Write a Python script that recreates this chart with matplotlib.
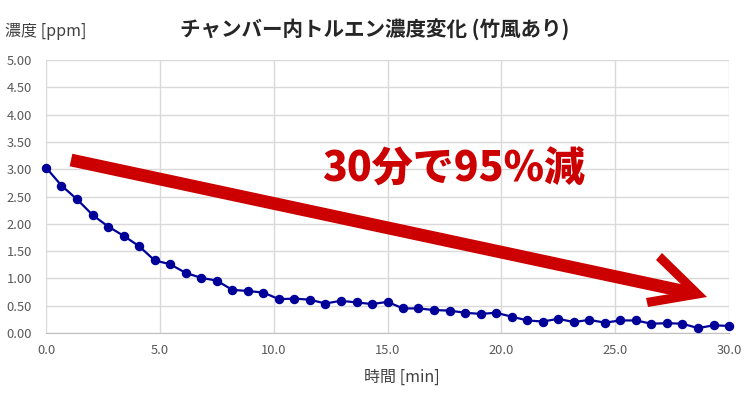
import matplotlib
matplotlib.use("Agg")
from matplotlib import pyplot as plt
from matplotlib.patches import Polygon
from matplotlib.lines import Line2D
from matplotlib.ticker import FormatStrFormatter, MultipleLocator

plt.rcParams['font.family'] = ['Noto Sans CJK JP', 'DejaVu Sans']

# data
times = [0.00, 0.68, 1.36, 2.05, 2.73, 3.41, 4.09, 4.77, 5.45, 6.14,
         6.82, 7.50, 8.18, 8.86, 9.55, 10.23, 10.91, 11.59, 12.27, 12.95,
         13.64, 14.32, 15.00, 15.68, 16.36, 17.05, 17.73, 18.41, 19.09, 19.77,
         20.45, 21.14, 21.82, 22.50, 23.18, 23.86, 24.55, 25.23, 25.91, 26.59,
         27.27, 27.95, 28.64, 29.32, 30.00]
conc = [3.03, 2.70, 2.45, 2.16, 1.95, 1.78, 1.59, 1.33, 1.26, 1.10,
        1.01, 0.96, 0.79, 0.77, 0.74, 0.62, 0.63, 0.61, 0.54, 0.59,
        0.56, 0.53, 0.57, 0.45, 0.45, 0.42, 0.41, 0.37, 0.35, 0.37,
        0.30, 0.23, 0.21, 0.26, 0.20, 0.24, 0.19, 0.23, 0.23, 0.17,
        0.18, 0.17, 0.09, 0.14, 0.13]

title = "チャンバー内トルエン濃度変化 (竹風あり)"
ylabel = "濃度 [ppm]"
xlabel = "時間 [min]"
note = "30分で95%減"

W, H = 750, 400
fig = plt.figure(figsize=(W / 100, H / 100), dpi=100)
ax = fig.add_axes([46 / W, 1 - 333 / H, 683 / W, 273 / H])

ax.plot(times, conc, color="#000099", lw=1.6, marker="o", ms=5.8, zorder=3,
        clip_on=False)

ax.set_xlim(0, 30)
ax.set_ylim(0, 5)
ax.xaxis.set_major_locator(MultipleLocator(5))
ax.yaxis.set_major_locator(MultipleLocator(0.5))
ax.xaxis.set_major_formatter(FormatStrFormatter("%.1f"))
ax.yaxis.set_major_formatter(FormatStrFormatter("%.2f"))
ax.grid(True, color="#D9D9D9", lw=1)
ax.set_axisbelow(True)
for s in ["top", "right", "left"]:
    ax.spines[s].set_visible(False)
ax.spines["bottom"].set_color("#BFBFBF")
ax.tick_params(length=0, labelsize=9.3, labelcolor="#595959")
ax.tick_params(axis="x", pad=8)
ax.tick_params(axis="y", pad=10)


def px(x, y):
    # pixel position -> figure fraction
    return (x / W, 1 - y / H)


# red arrow
red = "#CC0000"
shaft = Line2D(*zip(px(71, 160), px(692, 293)), transform=fig.transFigure,
               color=red, lw=9.2, solid_capstyle="butt", zorder=4)
fig.add_artist(shaft)
head = Polygon([px(707, 297), px(648, 307), px(646, 298), px(688, 291),
                px(656, 260), px(662, 253)], closed=True,
               transform=fig.transFigure, color=red, lw=0, zorder=4)
fig.add_artist(head)

fig.text(*px(454, 170), note, color=red, fontsize=29.5, fontweight="black",
         ha="center", va="center")

fig.text(*px(375, 30), title, fontsize=14.8, fontweight="bold",
         color="#262626", ha="center", va="center")
fig.text(*px(5, 31), ylabel, fontsize=11.5, color="#404040",
         ha="left", va="center")
fig.text(*px(402, 377), xlabel, fontsize=11.5, color="#404040",
         ha="center", va="center")

fig.savefig("out.png", dpi=100)
